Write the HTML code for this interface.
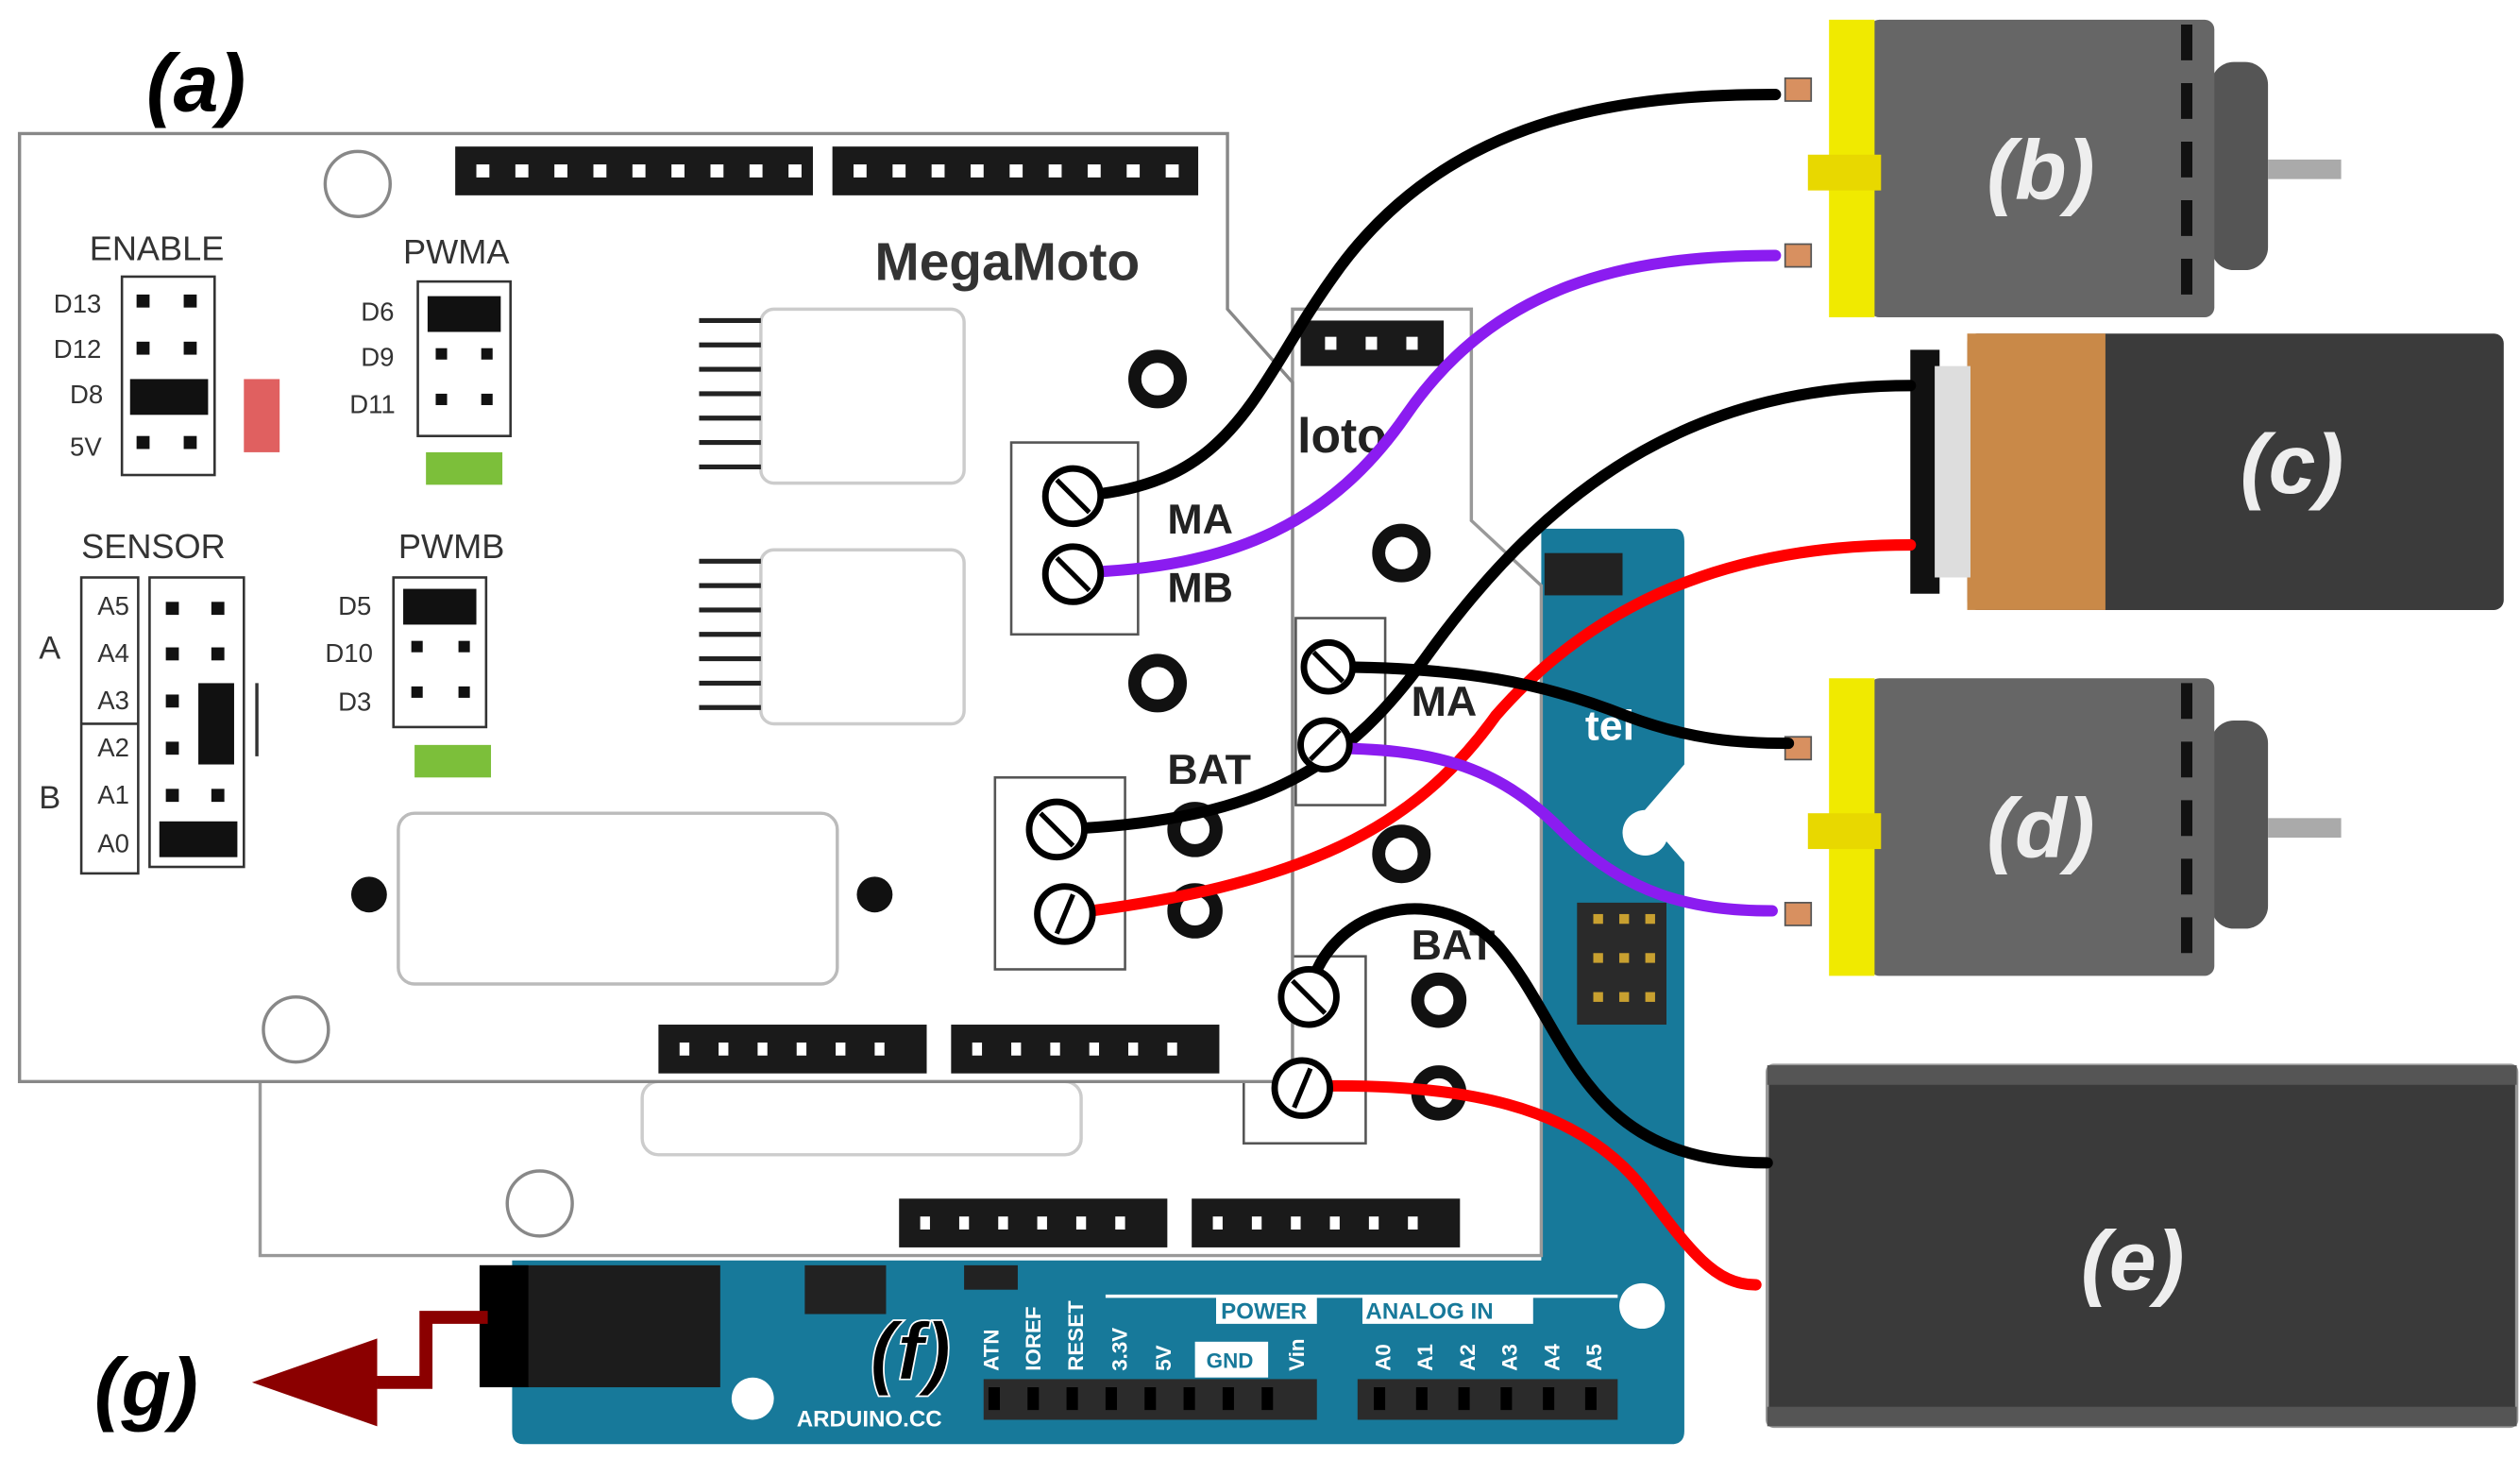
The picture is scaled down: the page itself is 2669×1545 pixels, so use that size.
<!DOCTYPE html>
<html><head><meta charset="utf-8"><style>
html,body{margin:0;padding:0;background:#fff;width:2669px;height:1545px;overflow:hidden}
svg{display:block}
text{font-family:"Liberation Sans",sans-serif}
</style></head><body>
<svg width="2669" height="1545" viewBox="0 0 1550 897" xmlns="http://www.w3.org/2000/svg">
<defs>
<g id="pin"><rect x="0" y="0" width="10" height="10" fill="#111"/></g>
</defs>
<!-- Arduino teal board -->
<path d="M948,325 L1030,325 Q1036,325 1036,333 L1036,470 L1010,500 L1036,530 L1036,880 Q1036,888 1028,888 L322,888 Q315,888 315,880 L315,775 L948,775 Z" fill="#17799a"/>
<rect x="970" y="555" width="55" height="75" fill="#2a2a2a"/>
<g fill="#c8a030"><rect x="980" y="562" width="6" height="6"/><rect x="996" y="562" width="6" height="6"/><rect x="1012" y="562" width="6" height="6"/><rect x="980" y="586" width="6" height="6"/><rect x="996" y="586" width="6" height="6"/><rect x="1012" y="586" width="6" height="6"/><rect x="980" y="610" width="6" height="6"/><rect x="996" y="610" width="6" height="6"/><rect x="1012" y="610" width="6" height="6"/></g>
<rect x="950" y="340" width="48" height="26" fill="#222"/>
<circle cx="1012" cy="512" r="14" fill="#fff"/>
<circle cx="1010" cy="803" r="14" fill="#fff"/>
<circle cx="463" cy="860" r="13" fill="#fff"/>
<text x="975" y="455" fill="#fff" font-size="26" font-weight="bold">tel</text>
<!-- power jack -->
<rect x="295" y="778" width="148" height="75" fill="#1c1c1c"/>
<rect x="295" y="778" width="30" height="75" fill="#000"/>
<rect x="495" y="778" width="50" height="30" fill="#222"/>
<rect x="593" y="778" width="33" height="15" fill="#222"/>
<!-- headers bottom -->
<rect x="605" y="848" width="205" height="25" fill="#2b2b2b"/>
<rect x="835" y="848" width="160" height="25" fill="#2b2b2b"/>
<g fill="#000">
<rect x="608" y="853" width="7" height="14"/><rect x="632" y="853" width="7" height="14"/><rect x="656" y="853" width="7" height="14"/><rect x="680" y="853" width="7" height="14"/><rect x="704" y="853" width="7" height="14"/><rect x="728" y="853" width="7" height="14"/><rect x="752" y="853" width="7" height="14"/><rect x="776" y="853" width="7" height="14"/>
<rect x="845" y="853" width="7" height="14"/><rect x="871" y="853" width="7" height="14"/><rect x="897" y="853" width="7" height="14"/><rect x="923" y="853" width="7" height="14"/><rect x="949" y="853" width="7" height="14"/><rect x="975" y="853" width="7" height="14"/>
</g>
<g fill="#fff" font-family="Liberation Mono" font-size="13" font-weight="bold">
<text transform="translate(614,843) rotate(-90)">ATN</text>
<text transform="translate(640,843) rotate(-90)">IOREF</text>
<text transform="translate(666,843) rotate(-90)">RESET</text>
<text transform="translate(693,843) rotate(-90)">3.3V</text>
<text transform="translate(720,843) rotate(-90)">5V</text>
<text transform="translate(802,843) rotate(-90)">Vin</text>
<text transform="translate(855,843) rotate(-90)">A0</text>
<text transform="translate(881,843) rotate(-90)">A1</text>
<text transform="translate(907,843) rotate(-90)">A2</text>
<text transform="translate(933,843) rotate(-90)">A3</text>
<text transform="translate(959,843) rotate(-90)">A4</text>
<text transform="translate(985,843) rotate(-90)">A5</text>
<text x="490" y="877" font-size="14">ARDUINO.CC</text>
</g>
<rect x="735" y="825" width="45" height="22" fill="#fff"/>
<text x="742" y="841" font-size="13" font-family="Liberation Mono" font-weight="bold" fill="#17799a">GND</text>
<rect x="748" y="797" width="62" height="17" fill="#fff"/>
<text x="751" y="811" font-size="14" font-family="Liberation Mono" font-weight="bold" fill="#17799a">POWER</text>
<rect x="838" y="797" width="105" height="17" fill="#fff"/>
<text x="840" y="811" font-size="14" font-family="Liberation Mono" font-weight="bold" fill="#17799a">ANALOG IN</text>
<line x1="680" y1="797" x2="995" y2="797" stroke="#fff" stroke-width="2"/>

<!-- back board -->
<path d="M160,665 L160,772 L948,772 L948,360 L905,320 L905,190 L795,190 L795,665 Z" fill="#fff" stroke="#999" stroke-width="2"/>
<rect x="395" y="665" width="270" height="45" rx="10" fill="#fff" stroke="#ccc" stroke-width="2"/>
<circle cx="332" cy="740" r="20" fill="#fff" stroke="#888" stroke-width="2"/>
<rect x="553" y="737" width="165" height="30" fill="#1a1a1a"/>
<rect x="733" y="737" width="165" height="30" fill="#1a1a1a"/>
<g fill="#fff"><rect x="566" y="748" width="6" height="8"/><rect x="590" y="748" width="6" height="8"/><rect x="614" y="748" width="6" height="8"/><rect x="638" y="748" width="6" height="8"/><rect x="662" y="748" width="6" height="8"/><rect x="686" y="748" width="6" height="8"/>
<rect x="746" y="748" width="6" height="8"/><rect x="770" y="748" width="6" height="8"/><rect x="794" y="748" width="6" height="8"/><rect x="818" y="748" width="6" height="8"/><rect x="842" y="748" width="6" height="8"/><rect x="866" y="748" width="6" height="8"/></g>
<rect x="800" y="197" width="88" height="28" fill="#1a1a1a"/>
<g fill="#fff"><rect x="815" y="207" width="7" height="8"/><rect x="840" y="207" width="7" height="8"/><rect x="865" y="207" width="7" height="8"/></g>
<text x="798" y="278" font-size="30" font-weight="bold" fill="#222">loto</text>
<circle cx="862" cy="340" r="14" fill="none" stroke="#111" stroke-width="8"/>
<circle cx="862" cy="525" r="14" fill="none" stroke="#111" stroke-width="8"/>
<text x="868" y="440" font-size="26" font-weight="bold" fill="#222">MA</text>
<text x="868" y="590" font-size="26" font-weight="bold" fill="#222">BAT</text>
<rect x="797" y="380" width="55" height="115" fill="#fff" stroke="#555" stroke-width="1.5"/>
<rect x="765" y="588" width="75" height="115" fill="#fff" stroke="#555" stroke-width="1.5"/>
<circle cx="885" cy="615" r="13" fill="none" stroke="#111" stroke-width="8"/>
<circle cx="885" cy="672" r="13" fill="none" stroke="#111" stroke-width="8"/>

<!-- front board -->
<path d="M12,82 L755,82 L755,190 L795,235 L795,665 L12,665 Z" fill="#fff" stroke="#888" stroke-width="2"/>
<circle cx="220" cy="113" r="20" fill="#fff" stroke="#888" stroke-width="2"/>
<circle cx="182" cy="633" r="20" fill="#fff" stroke="#888" stroke-width="2"/>
<circle cx="227" cy="550" r="11" fill="#111"/>
<circle cx="538" cy="550" r="11" fill="#111"/>
<rect x="245" y="500" width="270" height="105" rx="10" fill="#fff" stroke="#bbb" stroke-width="2"/>
<rect x="280" y="90" width="220" height="30" fill="#1a1a1a"/>
<rect x="512" y="90" width="225" height="30" fill="#1a1a1a"/>
<g fill="#fff">
<rect x="293" y="101" width="8" height="8"/><rect x="317" y="101" width="8" height="8"/><rect x="341" y="101" width="8" height="8"/><rect x="365" y="101" width="8" height="8"/><rect x="389" y="101" width="8" height="8"/><rect x="413" y="101" width="8" height="8"/><rect x="437" y="101" width="8" height="8"/><rect x="461" y="101" width="8" height="8"/><rect x="485" y="101" width="8" height="8"/>
<rect x="525" y="101" width="8" height="8"/><rect x="549" y="101" width="8" height="8"/><rect x="573" y="101" width="8" height="8"/><rect x="597" y="101" width="8" height="8"/><rect x="621" y="101" width="8" height="8"/><rect x="645" y="101" width="8" height="8"/><rect x="669" y="101" width="8" height="8"/><rect x="693" y="101" width="8" height="8"/><rect x="717" y="101" width="8" height="8"/>
</g>
<rect x="405" y="630" width="165" height="30" fill="#1a1a1a"/>
<rect x="585" y="630" width="165" height="30" fill="#1a1a1a"/>
<g fill="#fff"><rect x="418" y="641" width="6" height="8"/><rect x="442" y="641" width="6" height="8"/><rect x="466" y="641" width="6" height="8"/><rect x="490" y="641" width="6" height="8"/><rect x="514" y="641" width="6" height="8"/><rect x="538" y="641" width="6" height="8"/>
<rect x="598" y="641" width="6" height="8"/><rect x="622" y="641" width="6" height="8"/><rect x="646" y="641" width="6" height="8"/><rect x="670" y="641" width="6" height="8"/><rect x="694" y="641" width="6" height="8"/><rect x="718" y="641" width="6" height="8"/></g>
<text x="538" y="172" font-size="33" font-weight="bold" fill="#333">MegaMoto</text>
<!-- chips -->
<rect x="468" y="190" width="125" height="107" rx="8" fill="#fff" stroke="#ccc" stroke-width="2"/>
<rect x="468" y="338" width="125" height="107" rx="8" fill="#fff" stroke="#ccc" stroke-width="2"/>
<g stroke="#222" stroke-width="3">
<line x1="430" y1="197" x2="468" y2="197"/><line x1="430" y1="212" x2="468" y2="212"/><line x1="430" y1="227" x2="468" y2="227"/><line x1="430" y1="242" x2="468" y2="242"/><line x1="430" y1="257" x2="468" y2="257"/><line x1="430" y1="272" x2="468" y2="272"/><line x1="430" y1="287" x2="468" y2="287"/>
<line x1="430" y1="345" x2="468" y2="345"/><line x1="430" y1="360" x2="468" y2="360"/><line x1="430" y1="375" x2="468" y2="375"/><line x1="430" y1="390" x2="468" y2="390"/><line x1="430" y1="405" x2="468" y2="405"/><line x1="430" y1="420" x2="468" y2="420"/><line x1="430" y1="435" x2="468" y2="435"/>
</g>
<circle cx="712" cy="233" r="14" fill="none" stroke="#111" stroke-width="8"/>
<circle cx="712" cy="420" r="14" fill="none" stroke="#111" stroke-width="8"/>
<circle cx="735" cy="510" r="13" fill="none" stroke="#111" stroke-width="8"/>
<circle cx="735" cy="560" r="13" fill="none" stroke="#111" stroke-width="8"/>
<text x="718" y="328" font-size="26" font-weight="bold" fill="#222">MA</text>
<text x="718" y="370" font-size="26" font-weight="bold" fill="#222">MB</text>
<text x="718" y="482" font-size="26" font-weight="bold" fill="#222">BAT</text>
<rect x="622" y="272" width="78" height="118" fill="#fff" stroke="#555" stroke-width="1.5"/>
<rect x="612" y="478" width="80" height="118" fill="#fff" stroke="#555" stroke-width="1.5"/>
<!-- jumpers -->
<g font-size="16" fill="#333">
<text x="55" y="160" font-size="21">ENABLE</text>
<text x="248" y="162" font-size="21">PWMA</text>
<text x="50" y="343" font-size="21">SENSOR</text>
<text x="245" y="343" font-size="21">PWMB</text>
<text x="33" y="192">D13</text><text x="33" y="220">D12</text><text x="43" y="248">D8</text><text x="43" y="280">5V</text>
<text x="222" y="197">D6</text><text x="222" y="225">D9</text><text x="215" y="254">D11</text>
<text x="208" y="378">D5</text><text x="200" y="407">D10</text><text x="208" y="437">D3</text>
<text x="60" y="378">A5</text><text x="60" y="407">A4</text><text x="60" y="436">A3</text><text x="60" y="465">A2</text><text x="60" y="494">A1</text><text x="60" y="524">A0</text>
<text x="24" y="405" font-size="20">A</text><text x="24" y="497" font-size="20">B</text>
</g>
<rect x="75" y="170" width="57" height="122" fill="#fff" stroke="#333" stroke-width="1.5"/>
<g fill="#111"><rect x="84" y="181" width="8" height="8"/><rect x="113" y="181" width="8" height="8"/><rect x="84" y="210" width="8" height="8"/><rect x="113" y="210" width="8" height="8"/><rect x="80" y="233" width="48" height="22"/><rect x="84" y="268" width="8" height="8"/><rect x="113" y="268" width="8" height="8"/></g>
<rect x="150" y="233" width="22" height="45" fill="#e06060"/>
<rect x="257" y="173" width="57" height="95" fill="#fff" stroke="#333" stroke-width="1.5"/>
<g fill="#111"><rect x="263" y="182" width="45" height="22"/><rect x="268" y="214" width="7" height="7"/><rect x="296" y="214" width="7" height="7"/><rect x="268" y="242" width="7" height="7"/><rect x="296" y="242" width="7" height="7"/></g>
<rect x="262" y="278" width="47" height="20" fill="#7cbf3a"/>
<rect x="242" y="355" width="57" height="92" fill="#fff" stroke="#333" stroke-width="1.5"/>
<g fill="#111"><rect x="248" y="362" width="45" height="22"/><rect x="253" y="394" width="7" height="7"/><rect x="282" y="394" width="7" height="7"/><rect x="253" y="422" width="7" height="7"/><rect x="282" y="422" width="7" height="7"/></g>
<rect x="255" y="458" width="47" height="20" fill="#7cbf3a"/>
<rect x="50" y="355" width="35" height="182" fill="none" stroke="#333" stroke-width="1.5"/>
<line x1="50" y1="445" x2="85" y2="445" stroke="#333" stroke-width="1.5"/>
<rect x="92" y="355" width="58" height="178" fill="#fff" stroke="#333" stroke-width="1.5"/>
<g fill="#111"><rect x="102" y="370" width="8" height="8"/><rect x="130" y="370" width="8" height="8"/><rect x="102" y="398" width="8" height="8"/><rect x="130" y="398" width="8" height="8"/><rect x="102" y="427" width="8" height="8"/><rect x="102" y="456" width="8" height="8"/><rect x="102" y="485" width="8" height="8"/><rect x="130" y="485" width="8" height="8"/><rect x="122" y="420" width="22" height="50"/><rect x="98" y="505" width="48" height="22"/></g>
<line x1="158" y1="420" x2="158" y2="465" stroke="#333" stroke-width="2"/>

<!-- motors -->
<g id="motor">
<rect x="1360" y="38" width="35" height="128" rx="14" fill="#555"/>
<rect x="1395" y="98" width="45" height="12" fill="#aaa"/>
<rect x="1150" y="12" width="212" height="183" rx="6" fill="#666"/>
<line x1="1345" y1="15" x2="1345" y2="195" stroke="#111" stroke-width="7" stroke-dasharray="22,14"/>
<rect x="1125" y="12" width="28" height="183" fill="#f0ea00"/>
<rect x="1112" y="95" width="45" height="22" fill="#e8d800"/>
<rect x="1098" y="48" width="16" height="14" fill="#d89060" stroke="#555"/>
<rect x="1098" y="150" width="16" height="14" fill="#d89060" stroke="#555"/>
</g>
<use href="#motor" transform="translate(0,405)"/>
<text x="1222" y="122" font-size="52" font-style="italic" font-weight="bold" fill="#eee">(b)</text>
<text x="1222" y="527" font-size="52" font-style="italic" font-weight="bold" fill="#eee">(d)</text>
<!-- battery c -->
<rect x="1210" y="205" width="330" height="170" rx="6" fill="#3b3b3b"/>
<rect x="1210" y="205" width="85" height="170" fill="#c98948"/>
<rect x="1175" y="215" width="18" height="150" fill="#111"/>
<rect x="1190" y="225" width="22" height="130" fill="#ddd"/>
<text x="1378" y="303" font-size="52" font-style="italic" font-weight="bold" fill="#eee">(c)</text>
<!-- e -->
<rect x="1087" y="655" width="461" height="222" rx="4" fill="#3a3a3a" stroke="#999" stroke-width="2"/>
<rect x="1087" y="655" width="461" height="12" fill="#555"/>
<rect x="1087" y="865" width="461" height="12" fill="#555"/>
<text x="1280" y="793" font-size="52" font-style="italic" font-weight="bold" fill="#eee">(e)</text>

<!-- wires -->
<g fill="none" stroke-width="7" stroke-linecap="round">
<path d="M660,305 C760,300 770,240 820,170 C890,70 1000,58 1092,58" stroke="#000"/>
<path d="M660,352 C760,350 820,320 865,255 C920,175 1000,157 1092,157" stroke="#8b1cf0"/>
<path d="M650,510 C780,505 830,470 880,400 C960,290 1050,237 1175,237" stroke="#000"/>
<path d="M655,562 C800,545 870,510 920,440 C990,360 1080,335 1175,335" stroke="#f00"/>
<path d="M815,410 C900,410 950,420 1000,440 C1040,455 1070,457 1100,457" stroke="#000"/>
<path d="M815,460 C880,460 920,470 960,510 C1000,550 1040,560 1090,560" stroke="#8b1cf0"/>
<path d="M805,612 C815,560 880,540 920,580 C965,630 970,715 1087,715" stroke="#000"/>
<path d="M800,668 C900,665 970,680 1010,730 C1040,770 1055,790 1080,790" stroke="#f00"/>
</g>
<!-- screws -->
<g fill="#fff" stroke="#000" stroke-width="4">
<circle cx="660" cy="305" r="17"/><circle cx="660" cy="353" r="17"/>
<circle cx="650" cy="510" r="17"/><circle cx="655" cy="562" r="17"/>
<circle cx="817" cy="410" r="15"/><circle cx="815" cy="458" r="15"/>
<circle cx="805" cy="613" r="17"/><circle cx="801" cy="669" r="17"/>
</g>
<g stroke="#000" stroke-width="3">
<line x1="650" y1="295" x2="670" y2="315"/><line x1="650" y1="343" x2="670" y2="363"/>
<line x1="640" y1="500" x2="660" y2="520"/><line x1="660" y1="550" x2="650" y2="574"/>
<line x1="808" y1="401" x2="826" y2="419"/><line x1="806" y1="467" x2="824" y2="449"/>
<line x1="795" y1="603" x2="815" y2="623"/><line x1="806" y1="657" x2="796" y2="681"/>
</g>

<!-- g arrow -->
<path d="M300,810 L262,810 L262,850 L232,850" fill="none" stroke="#8b0000" stroke-width="8"/>
<polygon points="155,850 232,823 232,877" fill="#8b0000"/>
<!-- labels -->
<text x="90" y="68" font-size="50" font-style="italic" font-weight="bold" fill="#000">(a)</text>
<text x="58" y="870" font-size="50" font-style="italic" font-weight="bold" fill="#000">(g)</text>
<text x="535" y="848" font-size="50" font-style="italic" font-weight="bold" fill="#000" stroke="#fff" stroke-width="1">(f)</text>
</svg>
</body></html>
